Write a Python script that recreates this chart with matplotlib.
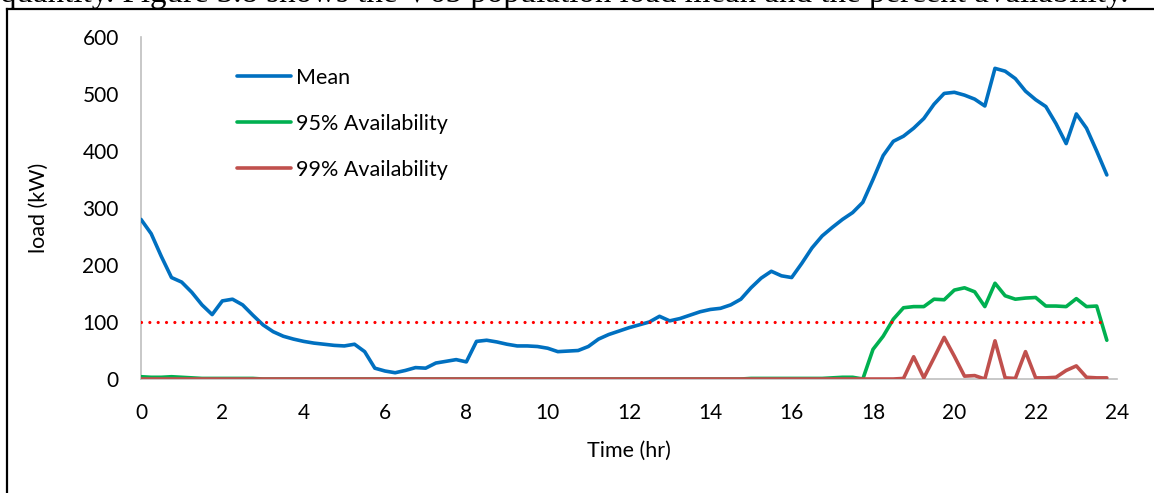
import numpy as np
import matplotlib
matplotlib.use("Agg")
import matplotlib.pyplot as plt
from matplotlib.lines import Line2D

plt.rcParams['font.family'] = ['Lato', 'DejaVu Sans']

# time of day, 15 minute steps
hours = np.arange(96) * 0.25

mean_load = [280, 255, 215, 178, 170, 152, 130, 113, 137, 140, 130, 112,
             95, 83, 75, 70, 66, 63, 61, 59, 58, 61, 48, 19,
             14, 11, 15, 20, 19, 28, 31, 34, 30, 66, 68, 65,
             61, 58, 58, 57, 54, 48, 49, 50, 57, 70, 78, 84,
             90, 95, 100, 110, 102, 106, 112, 118, 122, 124, 130, 140,
             160, 177, 189, 181, 178, 203, 230, 251, 266, 280, 292, 310,
             350, 392, 417, 426, 440, 457, 482, 501, 503, 498, 491, 479,
             545, 540, 527, 505, 490, 478, 448, 413, 465, 440, 400, 358]

avail_95 = [4, 3, 3, 4, 3, 2, 1, 1, 1, 1, 1, 1,
            0, 0, 0, 0, 0, 0, 0, 0, 0, 0, 0, 0,
            0, 0, 0, 0, 0, 0, 0, 0, 0, 0, 0, 0,
            0, 0, 0, 0, 0, 0, 0, 0, 0, 0, 0, 0,
            0, 0, 0, 0, 0, 0, 0, 0, 0, 0, 0, 0,
            1, 1, 1, 1, 1, 1, 1, 1, 2, 3, 3, 0,
            52, 75, 105, 125, 127, 127, 140, 139, 156, 160, 153, 127,
            168, 146, 140, 142, 143, 128, 128, 127, 141, 127, 128, 68]

avail_99 = [0] * 75 + [1, 39, 2, 37, 73, 40, 5, 6, 0,
                       67, 2, 1, 48, 2, 2, 3, 15, 23, 3, 2, 2]

threshold = 100

fig = plt.figure(figsize=(11.54, 4.93), dpi=100)
ax = fig.add_axes([141 / 1154, 114 / 493, 976 / 1154, 342 / 493])

ax.plot(hours, [threshold] * len(hours), color="red", lw=2.3,
        linestyle=(0, (0.01, 2.6)), dash_capstyle="round", zorder=4)
ax.plot(hours, mean_load, color="#0070C0", lw=2.6, solid_joinstyle="round",
        solid_capstyle="round", label="Mean", zorder=3)
ax.plot(hours, avail_95, color="#00B050", lw=2.6, solid_joinstyle="round",
        solid_capstyle="round", label="95% Availability", zorder=3)
ax.plot(hours, avail_99, color="#C0504D", lw=2.6, solid_joinstyle="round",
        solid_capstyle="round", label="99% Availability", zorder=3)

ax.set_xlim(0, 24)
ax.set_ylim(0, 600)
ax.set_xticks(range(0, 25, 2))
ax.set_yticks(range(0, 601, 100))
ax.tick_params(length=0, labelsize=15, colors="black")
ax.tick_params(axis="x", pad=17)
ax.tick_params(axis="y", pad=16)
for side in ["top", "right"]:
    ax.spines[side].set_visible(False)
for side in ["left", "bottom"]:
    ax.spines[side].set_color("#BFBFBF")
    ax.spines[side].set_linewidth(1.2)
ax.set_xlabel("Time (hr)", fontsize=15.5, labelpad=13)
ax.set_ylabel("load (kW)", fontsize=15.5, labelpad=24)

ax.legend(loc="upper left", bbox_to_anchor=(237 / 1154, 1 - 68 / 493),
          bbox_transform=fig.transFigure, frameon=False, fontsize=15.5,
          handlelength=2.5, handletextpad=0.25, labelspacing=1.2,
          borderpad=0, borderaxespad=0)

# page frame and clipped caption above it
fig.add_artist(Line2D([7 / 1154, 7 / 1154], [0, 1 - 9 / 493], color="black", lw=1.6))
fig.add_artist(Line2D([7 / 1154, 1], [1 - 9 / 493, 1 - 9 / 493], color="black", lw=1.6))
fig.text(0.0, 1 - 2 / 493,
         "quantity. Figure 3.8 shows the V65 population load mean and the percent availability.",
         family="Liberation Serif", fontsize=23.8, va="baseline", ha="left")

fig.savefig("out.png", dpi=100)
